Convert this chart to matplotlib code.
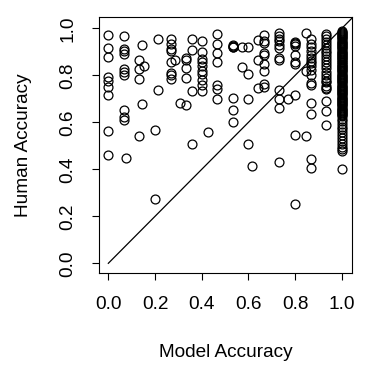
import numpy as np
import matplotlib
matplotlib.use("Agg")
import matplotlib.pyplot as plt

plt.rcParams['font.family'] = ['Liberation Sans', 'DejaVu Sans']

# model accuracy / human accuracy, grouped by model accuracy column
model_acc = (
    [0.0] * 9 + [0.067] * 10 + [0.077] + [0.133] * 4 + [0.143] * 2 + [0.154]
    + [0.2] * 2 + [0.214] * 2 + [0.267] * 8 + [0.286] + [0.308] + [0.333] * 5
    + [0.357] * 4 + [0.4] * 10 + [0.429] + [0.467] * 7 + [0.533] * 7
    + [0.571] * 2 + [0.6] * 4 + [0.615] + [0.643] * 3 + [0.667] * 9
    + [0.733] * 12 + [0.769] + [0.8] * 10 + [0.846] * 3 + [0.867] * 17
    + [0.933] * 24
)
human_acc = [
    0.971, 0.918, 0.877, 0.795, 0.776, 0.750, 0.715, 0.562, 0.459,
    0.967, 0.912, 0.902, 0.892, 0.829, 0.815, 0.801, 0.652, 0.622, 0.611,
    0.447,
    0.865, 0.829, 0.784, 0.541,
    0.928, 0.680,
    0.839,
    0.567, 0.272,
    0.955, 0.737,
    0.955, 0.933, 0.914, 0.904, 0.858, 0.812, 0.801, 0.784,
    0.866,
    0.684,
    0.872, 0.865, 0.830, 0.791, 0.672,
    0.957, 0.907, 0.733, 0.506,
    0.945, 0.900, 0.870, 0.855, 0.840, 0.820, 0.805, 0.780, 0.760, 0.733,
    0.560,
    0.975, 0.932, 0.896, 0.856, 0.758, 0.744, 0.698,
    0.928, 0.925, 0.922, 0.920, 0.704, 0.652, 0.600,
    0.920, 0.837,
    0.923, 0.806, 0.699, 0.506,
    0.416,
    0.949, 0.866, 0.748,
    0.970, 0.945, 0.938, 0.896, 0.887, 0.848, 0.818, 0.765, 0.750,
    0.982, 0.968, 0.955, 0.945, 0.930, 0.915, 0.872, 0.865, 0.738, 0.698, 0.660, 0.433,
    0.700,
    0.943, 0.938, 0.932, 0.925, 0.887, 0.857, 0.848, 0.716, 0.546, 0.254,
    0.982, 0.820, 0.543,
    0.957, 0.935, 0.922, 0.905, 0.887, 0.872, 0.860, 0.851, 0.840, 0.825,
    0.801, 0.769, 0.759, 0.681, 0.634, 0.444, 0.405,
    0.978, 0.968, 0.955, 0.942, 0.930, 0.918, 0.905, 0.895, 0.882, 0.870,
    0.858, 0.845, 0.830, 0.815, 0.802, 0.790, 0.778, 0.770, 0.757, 0.745,
    0.740, 0.692, 0.650, 0.588,
]

# the crowded column where the model is always right
human_acc_full = [
    0.990, 0.986, 0.981, 0.976, 0.972, 0.967, 0.962, 0.958, 0.953, 0.948,
    0.944, 0.939, 0.934, 0.930, 0.925, 0.920, 0.916, 0.911, 0.906, 0.901,
    0.897, 0.892, 0.887, 0.883, 0.878, 0.873, 0.869, 0.864, 0.859, 0.855,
    0.850, 0.845, 0.841, 0.836, 0.831, 0.827, 0.822, 0.817, 0.813, 0.808,
    0.803, 0.799, 0.794, 0.789, 0.785, 0.780, 0.775, 0.771, 0.766, 0.761,
    0.757, 0.752, 0.747, 0.743, 0.738, 0.733, 0.729, 0.724, 0.719, 0.715,
    0.710, 0.705, 0.701, 0.696, 0.691, 0.687, 0.682, 0.677, 0.673, 0.668,
    0.663, 0.659, 0.654, 0.649, 0.645, 0.640, 0.635, 0.630, 0.626,
    0.615, 0.604, 0.594, 0.582, 0.570, 0.557, 0.545, 0.533, 0.520, 0.508,
    0.497, 0.487, 0.479, 0.400,
]

ticks = [0.0, 0.2, 0.4, 0.6, 0.8, 1.0]
tick_labels = ['0.0', '0.2', '0.4', '0.6', '0.8', '1.0']

x = np.array(model_acc + [1.0] * len(human_acc_full))
y = np.array(human_acc + human_acc_full)

fig = plt.figure(figsize=(3.68, 3.70), dpi=100)
ax = fig.add_axes([0.269, 0.263, 0.687, 0.690])

ax.plot(x, y, 'o', mfc='none', mec='black', ms=6.4, mew=0.9)
ax.plot([0, 1.2], [0, 1.2], '-', color='black', lw=0.9)

ax.set_xlim(-0.04, 1.043)
ax.set_ylim(-0.04, 1.047)
ax.set_xticks(ticks)
ax.set_xticklabels(tick_labels)
ax.set_yticks(ticks)
ax.set_yticklabels(tick_labels, rotation=90, va='center')
ax.tick_params(length=5, width=0.8, labelsize=13.7, pad=11.5, color='black')

for s in ax.spines.values():
    s.set_linewidth(0.8)

ax.set_xlabel('Model Accuracy', fontsize=13.7)
ax.set_ylabel('Human Accuracy', fontsize=13.7)
ax.xaxis.set_label_coords(0.5, -0.281)
ax.yaxis.set_label_coords(-0.264, 0.5)

fig.savefig('out.png', dpi=100)
